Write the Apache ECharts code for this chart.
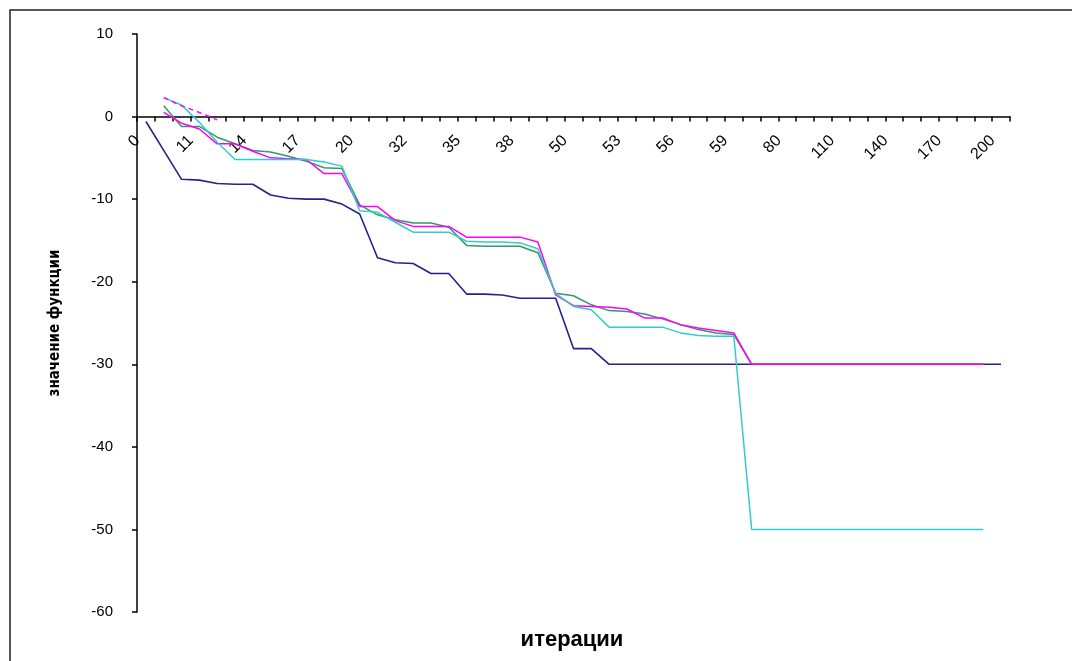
<!DOCTYPE html>
<html>
<head>
<meta charset="utf-8">
<script src="https://cdn.jsdelivr.net/npm/echarts@6/dist/echarts.min.js"></script>
<style>html,body{margin:0;padding:0;background:#fff;}#c{width:1072px;height:661px;}</style>
</head>
<body>
<div id="c"></div>
<script>
const categories = ['0','9','10','11','12','13','14','15','16','17','18','19','20','30','31','32','33','34','35','36','37','38','48','49','50','51','52','53','54','55','56','57','58','59','60','70','80','90','100','110','120','130','140','150','160','170','180','190','200'];

const yTicks = [10, 0, -10, -20, -30, -40, -50, -60];

const seriesNavy = [-0.6,-4.1,-7.6,-7.7,-8.1,-8.2,-8.2,-9.5,-9.9,-10.0,-10.0,-10.6,-11.8,-17.1,-17.7,-17.8,-19.0,-19.0,-21.5,-21.5,-21.6,-22.0,-22.0,-22.0,-28.1,-28.1,
  -30,-30,-30,-30,-30,-30,-30,-30,-30,-30,-30,-30,-30,-30,-30,-30,-30,-30,-30,-30,-30,-30,-30];

const seriesGreen = [null,1.3,-1.2,-1.2,-2.5,-3.3,-4.1,-4.3,-4.8,-5.4,-6.2,-6.3,-10.7,-11.9,-12.5,-12.9,-12.9,-13.4,-15.6,-15.7,-15.7,-15.7,-16.5,-21.4,-21.7,-22.8,-23.5,-23.6,-23.9,-24.5,-25.2,-25.8,-26.2,-26.4,
  -30,-30,-30,-30,-30,-30,-30,-30,-30,-30,-30,-30,-30,-30,null];

const seriesMagenta = [null,0.5,-0.8,-1.5,-3.3,-3.3,-4.2,-5.0,-5.1,-5.2,-6.9,-6.9,-10.9,-10.9,-12.6,-13.3,-13.3,-13.3,-14.6,-14.6,-14.6,-14.6,-15.2,-21.6,-22.9,-23.0,-23.1,-23.3,-24.4,-24.4,-25.2,-25.6,-25.9,-26.2,
  -30,-30,-30,-30,-30,-30,-30,-30,-30,-30,-30,-30,-30,-30,null];

const seriesCyan = [null,2.3,1.4,-0.7,-3.1,-5.2,-5.2,-5.2,-5.2,-5.2,-5.5,-6.0,-11.4,-11.6,-12.8,-14.0,-14.0,-14.0,-15.1,-15.2,-15.2,-15.3,-16.0,-21.4,-23.0,-23.4,-25.5,-25.5,-25.5,-25.5,-26.2,-26.5,-26.6,-26.6,
  -50,-50,-50,-50,-50,-50,-50,-50,-50,-50,-50,-50,-50,-50,null];

const seriesMagentaDash = [null,2.3,1.3,0.5,-0.4,null,null,null,null,null,null,null,null,null,null,null,null,null,null,null,null,null,null,null,null,null,null,null,null,null,null,null,null,null,null,null,null,null,null,null,null,null,null,null,null,null,null,null,null];

const FONT = "'Liberation Sans', Arial, sans-serif";
const GRID_TOP = 34, GRID_BOTTOM = 49, H = 661;
const Y_MIN = -60, Y_MAX = 10;
const plotH = H - GRID_TOP - GRID_BOTTOM;
// move the x axis from the bottom of the grid up to the zero line
const zeroOffset = -plotH * (0 - Y_MIN) / (Y_MAX - Y_MIN);

const chart = echarts.init(document.getElementById('c'), null, {renderer: 'canvas'});

function line(data, color, dashed, width) {
  return {
    type: 'line', data: data, symbol: 'none', connectNulls: false, animation: false,
    lineStyle: {color: color, width: width || 1.5, type: dashed ? [5, 4] : 'solid'},
    itemStyle: {color: color}
  };
}

chart.setOption({
  animation: false,
  backgroundColor: '#fff',
  grid: {left: 137, right: 62, top: GRID_TOP, bottom: GRID_BOTTOM, containLabel: false},
  xAxis: {
    type: 'category', data: categories, boundaryGap: true, position: 'bottom',
    offset: zeroOffset,
    axisLine: {onZero: false, lineStyle: {color: '#000', width: 1.5}},
    axisTick: {show: true, interval: 0, length: 5, lineStyle: {color: '#000', width: 1.5}},
    axisLabel: {interval: 2, rotate: 45, margin: 13, padding: [0, 12, 0, 0], fontSize: 16, color: '#000', fontFamily: FONT},
    splitLine: {show: false}
  },
  yAxis: {
    type: 'value', min: Y_MIN, max: Y_MAX, interval: 10,
    name: 'значение функции', nameLocation: 'middle', nameGap: 74,
    nameTextStyle: {fontSize: 15, fontWeight: 'bold', color: '#000', fontFamily: "'Liberation Sans Narrow', 'DejaVu Sans Condensed', Arial, sans-serif"},
    axisLine: {show: true, lineStyle: {color: '#000', width: 1.5}},
    axisTick: {show: true, length: 5, lineStyle: {color: '#000', width: 1.5}},
    axisLabel: {fontSize: 15, color: '#000', margin: 24, fontFamily: FONT,
      formatter: function (v) { return yTicks.indexOf(v) >= 0 ? String(v) : ''; }},
    splitLine: {show: false}
  },
  series: [
    line(seriesNavy, '#23238c', false, 1.6),
    line(seriesGreen, '#339966', false, 1.5),
    line(seriesMagenta, '#ff00ff', false, 1.5),
    line(seriesCyan, '#33cccc', false, 1.5),
    line(seriesMagentaDash, '#ff00ff', true, 1.5)
  ],
  graphic: [
    {type: 'rect', silent: true, shape: {x: 10, y: 10, width: 1100, height: 700},
     style: {fill: 'none', stroke: '#222', lineWidth: 1.5}},
    {type: 'text', silent: true, x: 572, y: 640,
     style: {text: 'итерации', fontSize: 22, fontWeight: 'bold', fill: '#000', fontFamily: FONT, textAlign: 'center', textVerticalAlign: 'middle'}}
  ]
});
</script>
</body>
</html>
